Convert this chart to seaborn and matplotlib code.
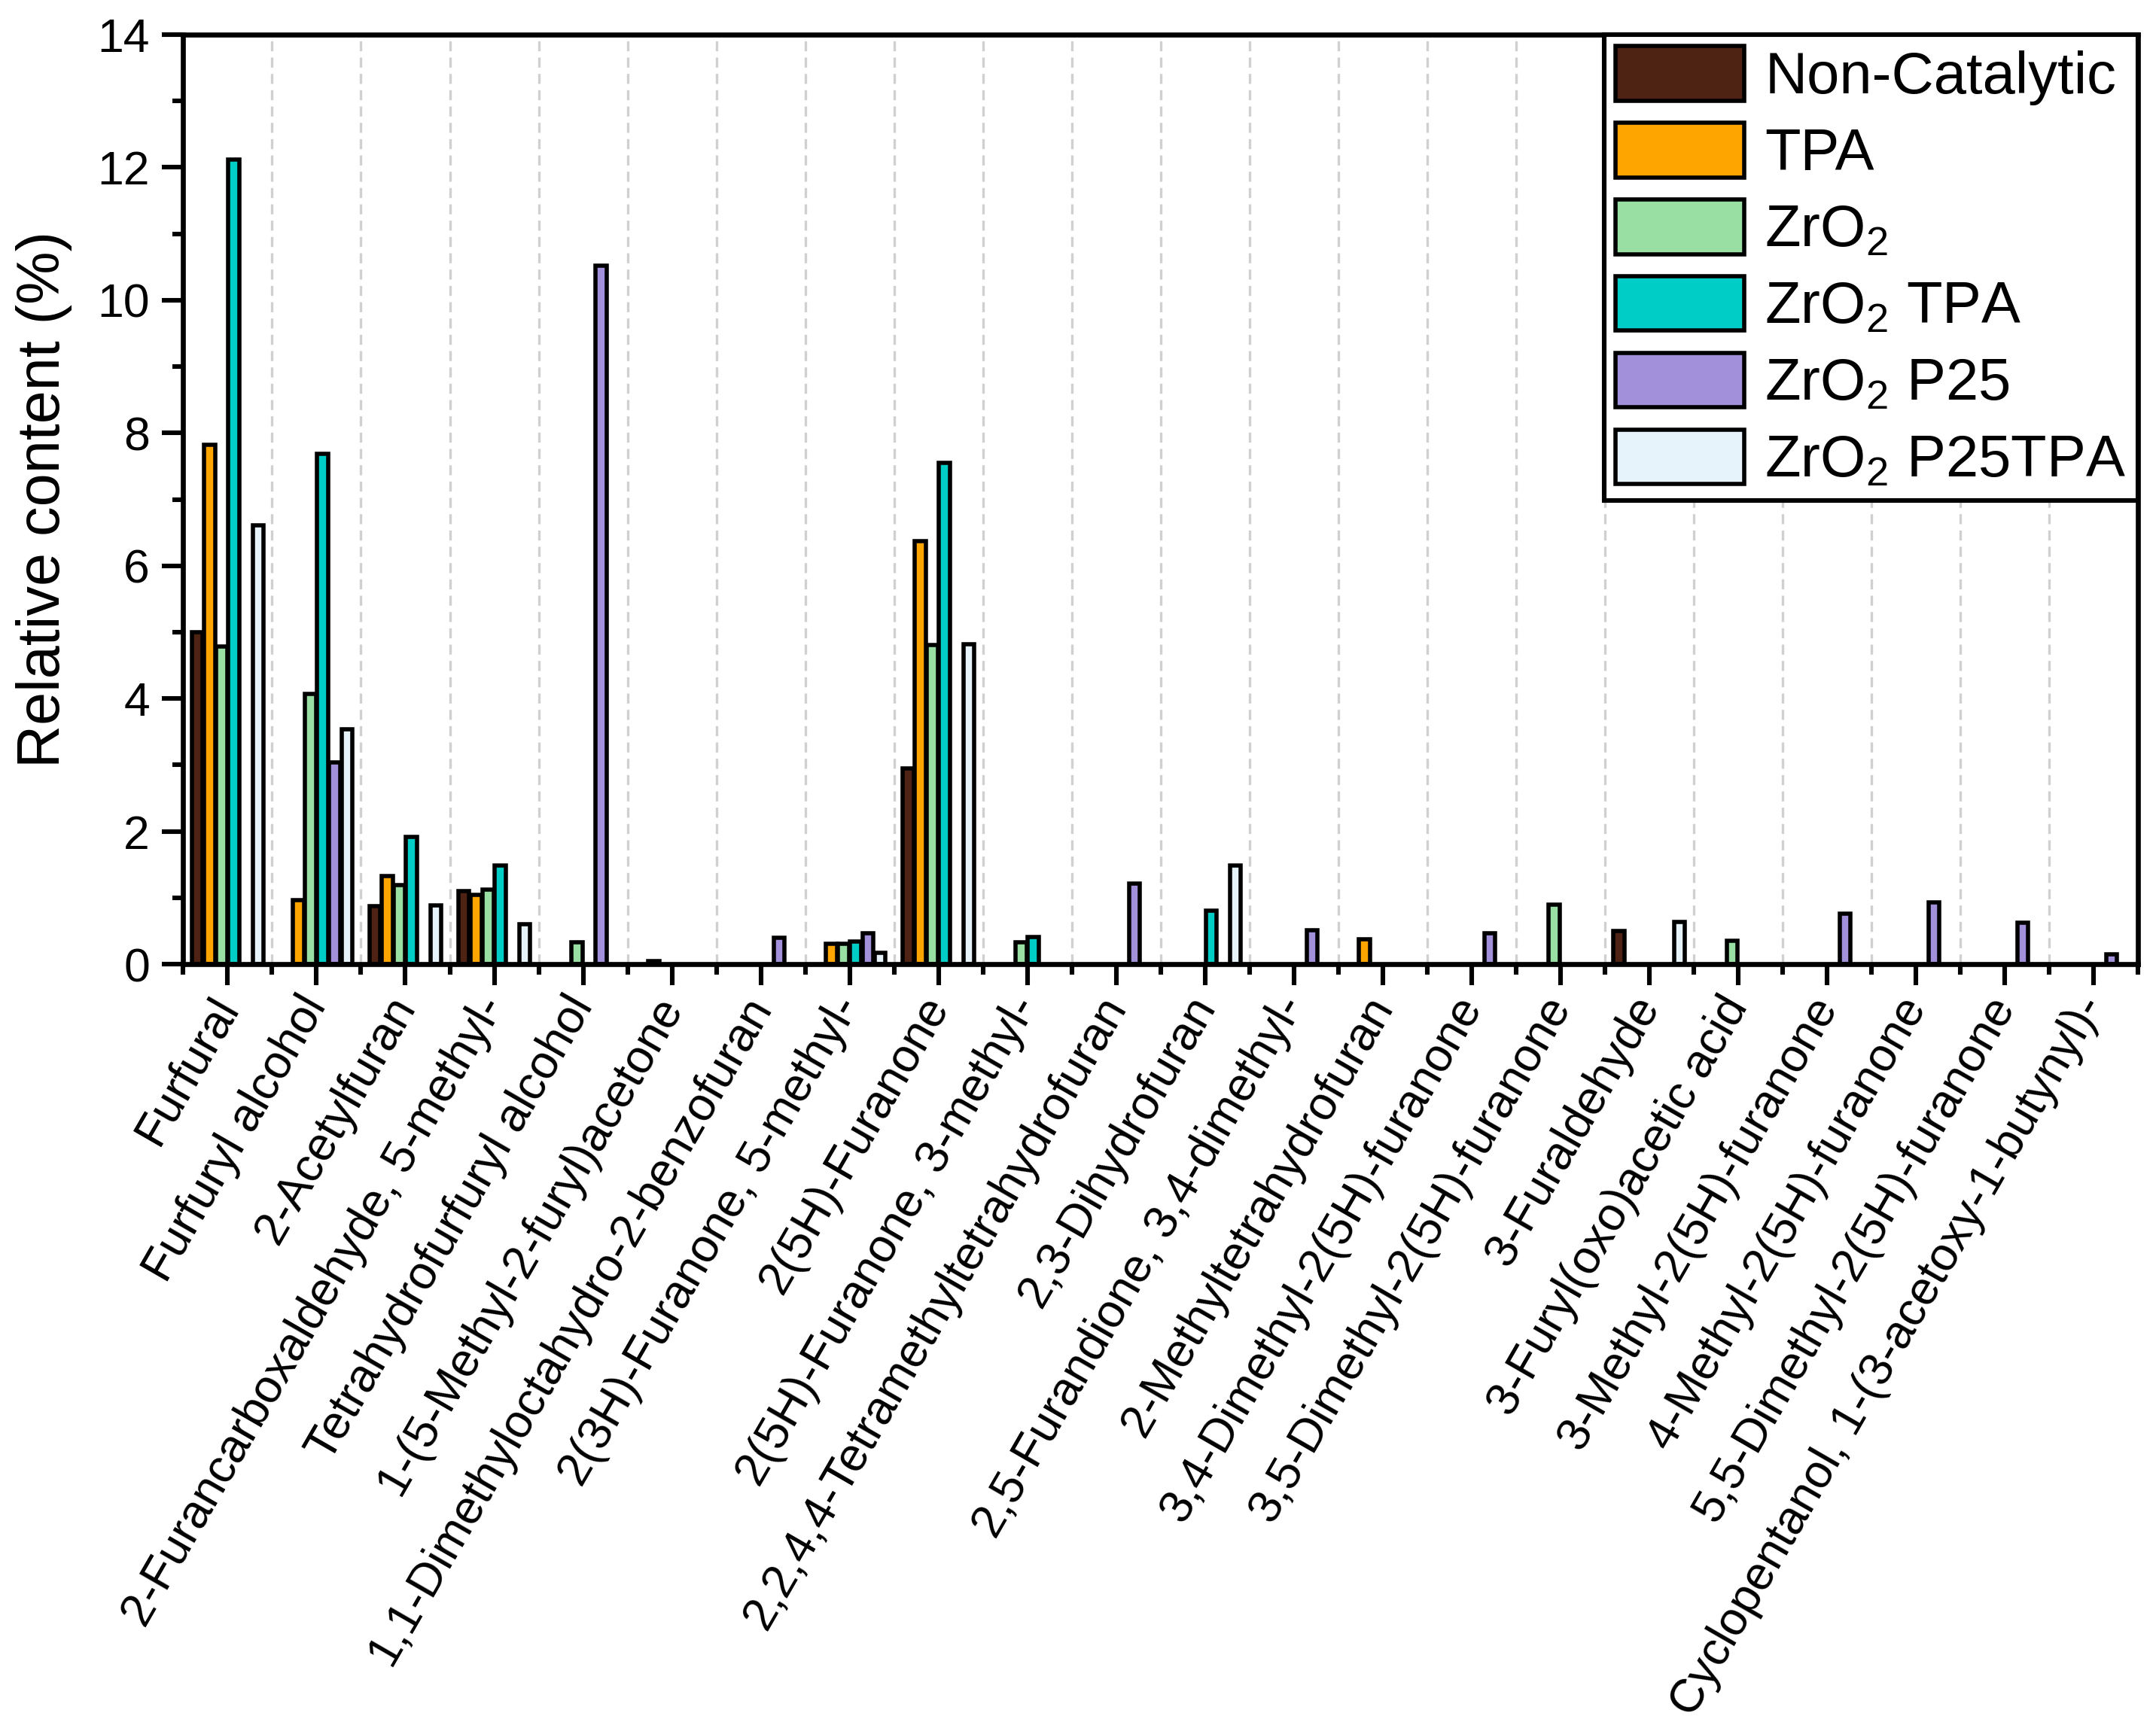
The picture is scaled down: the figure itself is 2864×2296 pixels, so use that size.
import matplotlib
matplotlib.use('Agg')
import matplotlib.pyplot as plt
import numpy as np
import pandas as pd
import seaborn as sns
from matplotlib.ticker import MultipleLocator, FixedLocator

# Compounds on the x axis
compounds = [
    'Furfural', 'Furfuryl alcohol', '2-Acetylfuran',
    '2-Furancarboxaldehyde, 5-methyl-', 'Tetrahydrofurfuryl alcohol',
    '1-(5-Methyl-2-furyl)acetone', '1,1-Dimethyloctahydro-2-benzofuran',
    '2(3H)-Furanone, 5-methyl-', '2(5H)-Furanone', '2(5H)-Furanone, 3-methyl-',
    '2,2,4,4-Tetramethyltetrahydrofuran', '2,3-Dihydrofuran',
    '2,5-Furandione, 3,4-dimethyl-', '2-Methyltetrahydrofuran',
    '3,4-Dimethyl-2(5H)-furanone', '3,5-Dimethyl-2(5H)-furanone',
    '3-Furaldehyde', '3-Furyl(oxo)acetic acid', '3-Methyl-2(5H)-furanone',
    '4-Methyl-2(5H)-furanone', '5,5-Dimethyl-2(5H)-furanone',
    'Cyclopentanol, 1-(3-acetoxy-1-butynyl)-',
]

catalysts = ['Non-Catalytic', 'TPA', 'ZrO2', 'ZrO2 TPA', 'ZrO2 P25', 'ZrO2 P25TPA']
legend_labels = ['Non-Catalytic', 'TPA', 'ZrO$_2$', 'ZrO$_2$ TPA', 'ZrO$_2$ P25', 'ZrO$_2$ P25TPA']
colors = ['#4F2314', '#FFA500', '#99DFA3', '#00CEC6', '#A390DA', '#E6F3FB']

# Relative content (%) per catalyst, 0 = not detected
non_catalytic = [5.0, 0, 0.88, 1.1, 0, 0, 0, 0, 2.95, 0, 0, 0, 0, 0, 0, 0, 0.5, 0, 0, 0, 0, 0]
tpa = [7.82, 0.97, 1.33, 1.04, 0, 0.05, 0, 0.31, 6.37, 0, 0, 0, 0, 0.38, 0, 0, 0, 0, 0, 0, 0, 0]
zro2 = [4.79, 4.07, 1.19, 1.12, 0.33, 0, 0, 0.31, 4.81, 0.33, 0, 0, 0, 0, 0, 0.9, 0, 0.35, 0, 0, 0, 0]
zro2_tpa = [12.12, 7.69, 1.92, 1.49, 0, 0, 0, 0.34, 7.55, 0.41, 0, 0.81, 0, 0, 0, 0, 0, 0, 0, 0, 0, 0]
zro2_p25 = [0, 3.04, 0, 0, 10.52, 0, 0.4, 0.47, 0, 0, 1.22, 0, 0.51, 0, 0.47, 0, 0, 0, 0.76, 0.93, 0.63, 0.15]
zro2_p25tpa = [6.61, 3.54, 0.89, 0.6, 0, 0, 0, 0.17, 4.82, 0, 0, 1.49, 0, 0, 0, 0, 0.64, 0, 0, 0, 0, 0]


def build_frame():
    """Long table for seaborn, zero entries dropped so no empty bars are drawn"""
    series = [non_catalytic, tpa, zro2, zro2_tpa, zro2_p25, zro2_p25tpa]
    rows = []
    for cat, vals in zip(catalysts, series):
        for comp, v in zip(compounds, vals):
            if v > 0:
                rows.append({'compound': comp, 'catalyst': cat, 'value': v})
    return pd.DataFrame(rows)


def draw_bar_plot():
    df = build_frame()

    sns.set_style('ticks')
    plt.rcParams['font.family'] = ['Liberation Sans', 'DejaVu Sans']
    plt.rcParams['mathtext.default'] = 'regular'
    for key in ['text.color', 'axes.labelcolor', 'xtick.color', 'ytick.color']:
        plt.rcParams[key] = 'black'

    fig = plt.figure(figsize=(14.32, 11.48), dpi=200)
    ax = fig.add_axes([0.085, 0.442, 0.9066, 0.538])

    sns.barplot(data=df, x='compound', y='value', hue='catalyst',
                order=compounds, hue_order=catalysts, palette=colors,
                saturation=1, width=0.82, gap=0.1, edgecolor='black',
                linewidth=2.0, errorbar=None, ax=ax)

    # Axis ranges and ticks
    ax.set_xlim(-0.5, len(compounds) - 0.5)
    ax.set_ylim(0, 14)
    ax.yaxis.set_major_locator(MultipleLocator(2))
    ax.yaxis.set_minor_locator(MultipleLocator(1))
    ax.xaxis.set_minor_locator(FixedLocator(np.arange(-0.5, len(compounds), 1.0)))

    ax.set_xticks(range(len(compounds)))
    ax.set_xticklabels(compounds, rotation=60, ha='right', va='center',
                       rotation_mode='anchor')

    ax.tick_params(axis='both', which='major', direction='out', length=10,
                   width=2.2, labelsize=22.5, colors='black')
    ax.tick_params(axis='y', which='major', pad=6)
    ax.tick_params(axis='x', which='major', pad=7)
    ax.tick_params(axis='both', which='minor', direction='out', length=5,
                   width=2.2)

    ax.set_xlabel('')
    ax.set_ylabel('Relative content (%)', fontsize=28.5, labelpad=12)

    # Dashed separators between compounds
    ax.xaxis.grid(True, which='minor', linestyle=(0, (4, 2.5)), color='#d0d0d0', linewidth=1.2)
    ax.set_axisbelow(True)

    for side in ['left', 'bottom', 'right', 'top']:
        ax.spines[side].set_linewidth(2.4)
        ax.spines[side].set_color('black')

    # Legend
    handles, _ = ax.get_legend_handles_labels()
    for h in handles:
        h.set_edgecolor('black')
        h.set_linewidth(2.0)
    leg = ax.legend(handles, legend_labels, loc='upper right', bbox_to_anchor=(1, 1),
                    borderaxespad=0, fancybox=False, frameon=True, edgecolor='black',
                    fontsize=28, handlelength=2.2, handleheight=1.05,
                    handletextpad=0.35, labelspacing=0.3, borderpad=0.2)
    leg.get_frame().set_linewidth(2.2)
    leg.get_frame().set_alpha(1)

    fig.savefig('out.png', dpi=200)
    return fig


if __name__ == "__main__":
    draw_bar_plot()
